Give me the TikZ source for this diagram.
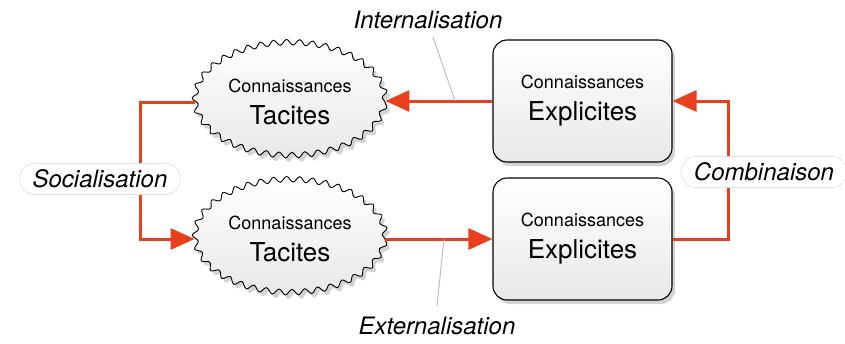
\documentclass[tikz,border=0pt]{standalone}
\usepackage{fontspec}
\setmainfont{TeX Gyre Heros}
\usetikzlibrary{arrows.meta,shapes.geometric,shapes.misc,shadows,decorations.pathmorphing}
\definecolor{arrred}{RGB}{232,64,28}
\tikzset{
  cloudnode/.style={ellipse, draw=black, line width=0.9pt, minimum width=190pt, minimum height=113pt,
    inner sep=0pt, align=center, top color=white, bottom color=gray!18,
    font=\fontsize{26}{32}\selectfont,
    decorate, decoration={snake, segment length=13pt, amplitude=2.8pt},
    drop shadow={opacity=0.35, shadow xshift=3pt, shadow yshift=-4pt}},
  boxnode/.style={rectangle, rounded corners=14pt, draw=black, line width=1.1pt,
    minimum width=179pt, minimum height=122pt, align=center, top color=white, bottom color=gray!18,
    font=\fontsize{26}{32}\selectfont,
    drop shadow={opacity=0.35, shadow xshift=3pt, shadow yshift=-4pt}},
  arr/.style={draw=arrred, line width=3pt, -{Triangle[length=24pt,width=21pt]}},
  tag/.style={rounded rectangle, fill=white, draw=gray!25, line width=0.6pt, inner xsep=10pt,
    minimum height=31pt, font=\fontsize{24}{26}\selectfont\itshape},
  plainlabel/.style={font=\fontsize{24}{26}\selectfont\itshape, inner sep=2pt},
  leader/.style={draw=gray!55, line width=0.9pt}
}
\newcommand{\smalltxt}[1]{{\fontsize{18}{20}\selectfont #1}}
\begin{document}
\begin{tikzpicture}[x=1pt,y=-1pt]
\useasboundingbox (0,0) rectangle (845,343);
\node[cloudnode] (t1) at (290,102) {\smalltxt{Connaissances}\\Tacites};
\node[cloudnode] (t2) at (290,239) {\smalltxt{Connaissances}\\Tacites};
\node[boxnode] (e1) at (582.5,101) {\smalltxt{Connaissances}\\Explicites};
\node[boxnode] (e2) at (582.5,239) {\smalltxt{Connaissances}\\Explicites};
% Internalisation / Externalisation
\draw[arr] (e1.west) -- (e1.west -| t1.east);
\draw[arr] (t2.east) -- (t2.east -| e2.west);
\coordinate (ip) at (455,101);
\coordinate (ep) at (444,239);
\node[plainlabel] (int) at (428,20) {Internalisation};
\node[plainlabel] (ext) at (437,326) {Externalisation};
\draw[leader] (433,37) -- (ip);
\draw[leader] (437,306) -- (ep);
% Socialisation
\draw[arr] (t1.west) -- ++(-54,0) |- (t2.west);
\node[tag] (soc) at (100,179) {Socialisation};
% Combinaison
\draw[arr] (e2.east) -- ++(56,0) |- (e1.east);
\node[tag] (comb) at (764,172) {Combinaison};
\end{tikzpicture}
\end{document}
